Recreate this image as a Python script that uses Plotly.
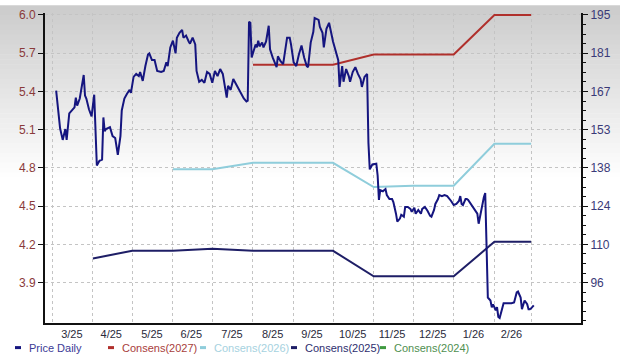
import plotly.graph_objects as go

# ---------------- data ----------------
price_dates = [
    "2025-03-04","2025-03-06","2025-03-07","2025-03-09","2025-03-11","2025-03-12","2025-03-14","2025-03-16",
    "2025-03-18","2025-03-19","2025-03-20","2025-03-22","2025-03-23","2025-03-25","2025-03-26","2025-03-27",
    "2025-03-29","2025-03-31","2025-04-02","2025-04-03","2025-04-04","2025-04-06","2025-04-08","2025-04-09",
    "2025-04-10","2025-04-11","2025-04-14","2025-04-16","2025-04-18","2025-04-20","2025-04-22","2025-04-23",
    "2025-04-25","2025-04-27","2025-04-29","2025-04-30","2025-05-02","2025-05-04","2025-05-06","2025-05-07",
    "2025-05-09","2025-05-11","2025-05-13","2025-05-14","2025-05-16","2025-05-18","2025-05-20","2025-05-23",
    "2025-05-25","2025-05-27","2025-05-28","2025-05-30","2025-06-01","2025-06-03","2025-06-04","2025-06-06",
    "2025-06-08","2025-06-09","2025-06-11","2025-06-13","2025-06-14","2025-06-16","2025-06-18","2025-06-19",
    "2025-06-21","2025-06-23","2025-06-25","2025-06-27","2025-06-29","2025-07-01","2025-07-03","2025-07-05",
    "2025-07-07","2025-07-09","2025-07-11","2025-07-12","2025-07-13","2025-07-15","2025-07-17","2025-07-19",
    "2025-07-22","2025-07-25","2025-07-27","2025-07-28","2025-07-29","2025-07-30","2025-07-31","2025-08-03",
    "2025-08-04","2025-08-05","2025-08-06","2025-08-08","2025-08-09","2025-08-11","2025-08-13","2025-08-14",
    "2025-08-16","2025-08-19","2025-08-20","2025-08-22","2025-08-24","2025-08-27","2025-08-29","2025-08-30",
    "2025-09-01","2025-09-03","2025-09-05","2025-09-07","2025-09-09","2025-09-11","2025-09-12","2025-09-14",
    "2025-09-16","2025-09-17","2025-09-20","2025-09-21","2025-09-23","2025-09-24","2025-09-26","2025-09-28",
    "2025-10-01","2025-10-03","2025-10-05","2025-10-06","2025-10-08","2025-10-09","2025-10-11","2025-10-13",
    "2025-10-14","2025-10-16","2025-10-18","2025-10-20","2025-10-22","2025-10-23","2025-10-24","2025-10-25",
    "2025-10-27","2025-10-28","2025-10-29","2025-10-31","2025-11-03","2025-11-04","2025-11-05","2025-11-06",
    "2025-11-08","2025-11-10","2025-11-11","2025-11-13","2025-11-15","2025-11-16","2025-11-18","2025-11-19",
    "2025-11-21","2025-11-22","2025-11-24","2025-11-25","2025-11-27","2025-11-29","2025-11-30","2025-12-02",
    "2025-12-03","2025-12-05","2025-12-07","2025-12-08","2025-12-10","2025-12-12","2025-12-14","2025-12-15",
    "2025-12-17","2025-12-18","2025-12-20","2025-12-21","2025-12-23","2025-12-25","2025-12-27","2025-12-29",
    "2025-12-30","2026-01-01","2026-01-03","2026-01-05","2026-01-06","2026-01-07","2026-01-08","2026-01-10",
    "2026-01-11","2026-01-12","2026-01-14","2026-01-15","2026-01-16","2026-01-17","2026-01-19","2026-01-20",
    "2026-01-21","2026-01-22","2026-01-24","2026-01-25","2026-01-26","2026-01-27","2026-01-29","2026-01-30",
    "2026-01-31","2026-02-02","2026-02-03","2026-02-04","2026-02-05","2026-02-07","2026-02-08","2026-02-09",
    "2026-02-12","2026-02-14","2026-02-16","2026-02-18","2026-02-19","2026-02-21","2026-02-22","2026-02-23",
    "2026-02-24","2026-02-26","2026-02-27","2026-02-28","2026-03-01","2026-03-03",
]
price_values = [
    167.0,158.6,153.1,148.8,152.8,148.8,158.6,159.7,
    160.8,164.4,161.5,164.1,166.6,172.8,165.2,164.1,
    160.1,157.5,165.5,152.4,139.3,141.1,141.5,157.1,
    152.0,152.8,153.5,150.2,149.5,143.3,150.2,159.7,
    164.1,165.9,167.3,166.2,172.1,173.2,172.4,173.9,
    170.6,176.1,180.4,180.8,178.3,178.3,174.3,173.9,
    174.3,177.5,176.1,183.0,185.5,180.8,186.6,188.4,
    189.5,186.6,187.4,185.2,184.4,186.6,184.1,174.3,
    170.3,171.0,169.9,173.9,173.2,169.9,174.3,172.4,
    175.0,173.2,166.6,164.4,168.8,167.3,171.3,169.5,
    167.0,164.1,163.0,163.3,192.5,192.1,179.3,184.1,
    183.0,185.5,183.4,184.8,183.0,185.2,191.0,182.3,
    179.3,175.7,179.7,177.9,176.8,186.6,186.6,184.1,
    177.5,176.1,180.4,183.7,179.3,176.1,175.7,184.8,
    188.8,193.9,193.2,190.6,188.4,183.0,189.9,192.1,
    185.2,181.5,178.3,168.4,176.1,170.3,175.0,172.4,
    170.3,173.9,175.7,173.2,171.3,168.4,170.3,172.1,
    173.2,147.7,137.9,139.7,140.0,135.7,126.6,130.2,
    129.8,130.6,128.4,126.9,126.9,125.8,121.5,118.6,
    119.7,121.1,120.4,124.0,124.0,123.3,122.2,123.7,
    121.5,122.9,121.5,123.3,124.0,122.6,120.7,120.4,
    122.9,125.1,126.9,128.4,128.0,128.4,128.0,126.9,
    126.2,124.7,125.1,126.2,128.0,125.1,124.7,126.9,
    126.9,126.6,125.1,124.4,123.3,122.6,121.5,117.8,
    120.4,124.0,127.7,129.1,113.8,90.5,89.4,86.9,
    88.0,85.8,86.9,83.3,82.9,86.9,88.4,88.4,
    88.4,88.4,88.7,92.4,92.7,90.5,86.2,88.4,
    89.4,88.0,86.2,86.2,86.5,87.6,
]

cons_dates = ["2025-04-01","2025-05-01","2025-06-01","2025-07-01","2025-08-01","2025-09-01",
              "2025-10-01","2025-11-01","2025-12-01","2026-01-01","2026-02-01","2026-03-01"]
cons_2027 = [None, None, None, None, 5.61, 5.61, 5.61, 5.69, 5.69, 5.69, 6.00, 6.00]
cons_2026 = [None, None, 4.79, 4.79, 4.84, 4.84, 4.84, 4.65, 4.66, 4.66, 4.99, 4.99]
cons_2025 = [4.09, 4.15, 4.15, 4.165, 4.15, 4.15, 4.15, 3.95, 3.95, 3.95, 4.22, 4.22]
cons_2024 = [None] * 12

month_starts = ["2025-03-01","2025-04-01","2025-05-01","2025-06-01","2025-07-01","2025-08-01","2025-09-01",
                "2025-10-01","2025-11-01","2025-12-01","2026-01-01","2026-02-01","2026-03-01"]
month_mids = ["2025-03-16","2025-04-15","2025-05-16","2025-06-15","2025-07-16","2025-08-16","2025-09-15",
              "2025-10-16","2025-11-15","2025-12-16","2026-01-16","2026-02-14"]
month_labels = ["3/25","4/25","5/25","6/25","7/25","8/25","9/25","10/25","11/25","12/25","1/26","2/26"]

left_ticks = [3.9, 4.2, 4.5, 4.8, 5.1, 5.4, 5.7, 6.0]
right_ticks = [96, 110.14, 124.29, 138.43, 152.57, 166.71, 180.86, 195]
right_labels = ["96", "110", "124", "138", "153", "167", "181", "195"]

# ---------------- styles ----------------
C_PRICE = "#15157f"
C_2027 = "#b0302c"
C_2026 = "#8fcddb"
C_2025 = "#1e1e66"
C_2024 = "#3f9a3f"
FONT = "Liberation Sans, Arial, sans-serif"

W, H = 620, 357
ML, MR, MT, MB = 45, 39, 8, 34
PW, PH = W - ML - MR, H - MT - MB

def px_x(px):
    return (px - ML) / PW

def px_y(py):
    return (H - MB - py) / PH

fig = go.Figure()

fig.add_trace(go.Scatter(x=cons_dates, y=cons_2027, mode="lines", name="Consens(2027)",
                         line=dict(color=C_2027, width=2)))
fig.add_trace(go.Scatter(x=cons_dates, y=cons_2026, mode="lines", name="Consens(2026)",
                         line=dict(color=C_2026, width=2)))
fig.add_trace(go.Scatter(x=cons_dates, y=cons_2025, mode="lines", name="Consens(2025)",
                         line=dict(color=C_2025, width=2)))
fig.add_trace(go.Scatter(x=cons_dates, y=cons_2024, mode="lines", name="Consens(2024)",
                         line=dict(color=C_2024, width=2)))
fig.add_trace(go.Scatter(x=price_dates, y=price_values, mode="lines", name="Price Daily",
                         line=dict(color=C_PRICE, width=2), yaxis="y2"))

# background gradient (grey at top fading to white)
shapes = []
N = 36
grad_h = 180
for i in range(N):
    y0 = i * grad_h / N
    y1 = (i + 1) * grad_h / N + 0.5
    v = int(round(204 + (255 - 204) * (i / (N - 1))))
    shapes.append(dict(type="rect", xref="paper", yref="paper",
                       x0=px_x(0), x1=px_x(W), y0=px_y(y1), y1=px_y(y0),
                       fillcolor=f"rgb({v},{v},{v})", line=dict(width=0), layer="below"))

# custom legend
legend_items = [("Price Daily", C_PRICE, "#3b3b96", 15),
                ("Consens(2027)", C_2027, "#a8403c", 108),
                ("Consens(2026)", C_2026, "#a6d2e0", 200),
                ("Consens(2025)", C_2025, "#2e2e6e", 291),
                ("Consens(2024)", C_2024, "#4f8f4f", 380)]
annotations = []
LEG_Y = 348
for name, lc, tc, mx in legend_items:
    shapes.append(dict(type="line", xref="paper", yref="paper",
                       x0=px_x(mx), x1=px_x(mx + 6), y0=px_y(LEG_Y), y1=px_y(LEG_Y),
                       line=dict(color=lc, width=3)))
    annotations.append(dict(xref="paper", yref="paper", x=px_x(mx + 12), y=px_y(LEG_Y),
                            xanchor="left", yanchor="middle", showarrow=False, text=name,
                            font=dict(family=FONT, size=11, color=tc)))

top_l, bot_l = 6.0 + 2 * 0.3 / 38.857, 6.0 - 313 * 0.3 / 38.857
step_r = (195 - 96) / 7
top_r, bot_r = 195 + 2 * step_r / 38.857, 195 - 313 * step_r / 38.857
minor_r = [96 + k * step_r / 4 for k in range(-4, 29)]

fig.update_layout(
    width=W, height=H,
    margin=dict(l=ML, r=MR, t=MT, b=MB),
    paper_bgcolor="rgba(0,0,0,0)",
    plot_bgcolor="rgba(0,0,0,0)",
    showlegend=False,
    hovermode=False,
    font=dict(family=FONT, size=11),
    shapes=shapes,
    annotations=annotations,
    xaxis=dict(
        type="date",
        range=["2025-02-23 12:00", "2026-04-08"],
        tickmode="array", tickvals=month_mids, ticktext=month_labels,
        ticks="", showgrid=False, zeroline=False,
        showline=True, linecolor="#111111", linewidth=2,
        tickfont=dict(family=FONT, size=11, color="#2a2a3a"),
        minor=dict(tickmode="array", tickvals=month_starts, showgrid=True,
                   gridcolor="#c4c4c4", griddash="dot", gridwidth=1, ticks=""),
    ),
    yaxis=dict(
        range=[bot_l, top_l],
        tickmode="array", tickvals=left_ticks, ticktext=[f"{v:.1f}" for v in left_ticks],
        ticks="outside", ticklen=5, tickcolor="#111111", tickwidth=1,
        showline=True, linecolor="#111111", linewidth=2,
        showgrid=True, gridcolor="#c4c4c4", griddash="dot", gridwidth=1,
        zeroline=False,
        tickfont=dict(family=FONT, size=12, color="#8a3a3a"),
    ),
    yaxis2=dict(
        overlaying="y", side="right",
        range=[bot_r, top_r],
        tickmode="array", tickvals=right_ticks, ticktext=right_labels,
        ticks="outside", ticklen=5, tickcolor="#111111", tickwidth=1,
        showline=True, linecolor="#111111", linewidth=2,
        showgrid=False, zeroline=False,
        tickfont=dict(family=FONT, size=12, color="#3a3a78"),
        minor=dict(tickmode="array", tickvals=minor_r, ticks="outside", ticklen=3,
                   tickcolor="#111111", showgrid=False),
    ),
)

fig.write_html("out.html", config={"displayModeBar": False},
               post_script="document.body.style.margin='0';document.body.style.padding='0';")
